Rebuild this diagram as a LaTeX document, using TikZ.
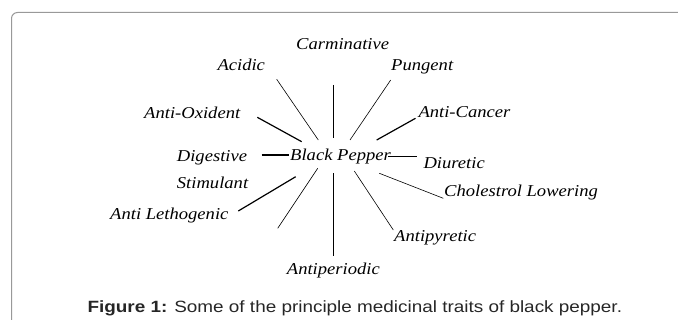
\documentclass[tikz,border=0pt]{standalone}
\usepackage{fontspec}
\setmainfont{Liberation Serif}
\setsansfont{Liberation Sans}
\newcommand{\wide}[1]{\scalebox{1.12}[1]{#1}}
\begin{document}
\begin{tikzpicture}[x=1pt,y=-1pt,
  lab/.style={inner sep=0pt,anchor=base west,font=\fontsize{16.6}{20}\selectfont\itshape},
  thin/.style={line width=0.6pt},
  thick/.style={line width=1.2pt},
  frame/.style={draw=black!40,line width=1pt,rounded corners=6pt}]
\useasboundingbox (0,0) rectangle (678,320);
\draw[frame] (11.5,330) -- (11.5,12.5) -- (690,12.5);
% labels
\node[lab] (carm) at (296,50) {\wide{Carminative}};
\node[lab] (acid) at (217.3,71) {\wide{Acidic}};
\node[lab] (pung) at (391,70.5) {\wide{Pungent}};
\node[lab] (oxid) at (144,118.3) {\wide{Anti-Oxident}};
\node[lab] (canc) at (418.3,117.3) {\wide{Anti-Cancer}};
\node[lab] (dige) at (176.7,161.7) {\wide{Digestive}};
\node[lab] (bp) at (290,160.5) {\wide{Black Pepper}};
\node[lab] (diur) at (423.3,168.3) {\wide{Diuretic}};
\node[lab] (stim) at (176.7,188.3) {\wide{Stimulant}};
\node[lab] (chol) at (444,196.7) {\wide{Cholestrol Lowering}};
\node[lab] (leth) at (110,220) {\wide{Anti Lethogenic}};
\node[lab] (pyre) at (394,241.7) {\wide{Antipyretic}};
\node[lab] (peri) at (286.7,275) {\wide{Antiperiodic}};
% connector end points
\coordinate (a1) at (276.7,79.3);  \coordinate (a2) at (318.3,140);
\coordinate (c1) at (333.3,85);    \coordinate (c2) at (333.3,138.3);
\coordinate (p1) at (390.7,80);    \coordinate (p2) at (350,140);
\coordinate (o1) at (257.3,117.3); \coordinate (o2) at (301.7,141.7);
\coordinate (k1) at (415.5,118.3); \coordinate (k2) at (376.7,140);
\coordinate (d1) at (261.7,155);   \coordinate (d2) at (289,155);
\coordinate (u1) at (388,156.7);   \coordinate (u2) at (416.7,156.7);
\coordinate (l1) at (238.3,211);   \coordinate (l2) at (295.7,176.7);
\coordinate (x1) at (277.7,228.3); \coordinate (x2) at (317.7,168.3);
\coordinate (e1) at (333.3,256);   \coordinate (e2) at (333.3,173.3);
\coordinate (y1) at (393.3,230);   \coordinate (y2) at (354.3,171);
\coordinate (h1) at (443.3,198.3); \coordinate (h2) at (379.3,173.3);
% connectors
\draw[thin] (a1) -- (a2);
\draw[thin] (c1) -- (c2);
\draw[thin] (p1) -- (p2);
\draw[thick] (o1) -- (o2);
\draw[thick] (k1) -- (k2);
\draw[thick] (d1) -- (d2);
\draw[thick] (u1) -- (u2);
\draw[thick] (l1) -- (l2);
\draw[thin] (x1) -- (x2);
\draw[thin] (e1) -- (e2);
\draw[thin] (y1) -- (y2);
\draw[thin] (h1) -- (h2);
% caption
\node[inner sep=0pt,anchor=base west,text=black!85,font=\sffamily\fontsize{16.3}{19}\selectfont] (cap) at (87.3,312.8) {\scalebox{1.16}[1]{\textbf{Figure 1:} Some of the principle medicinal traits of black pepper.}};
\end{tikzpicture}
\end{document}
